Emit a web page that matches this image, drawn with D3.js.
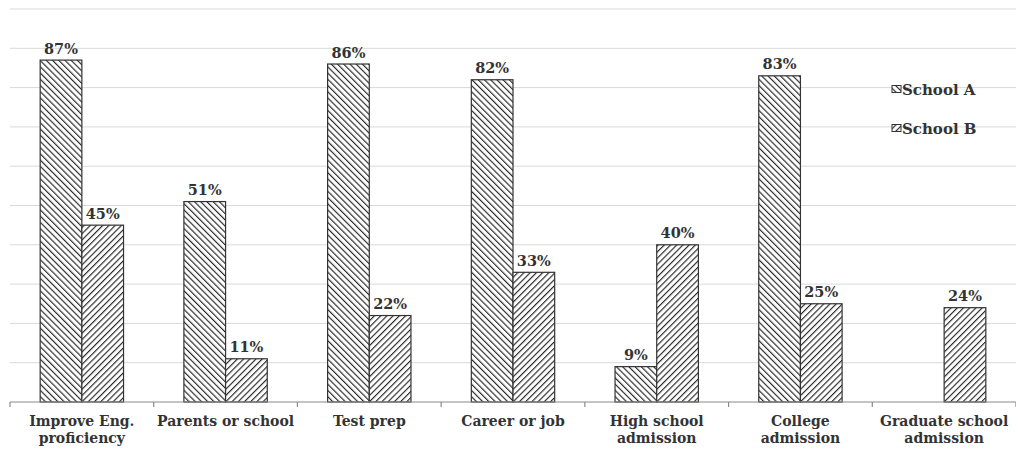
<!DOCTYPE html>
<html>
<head>
<meta charset="utf-8">
<script src="https://cdn.jsdelivr.net/npm/d3@7"></script>
<style>
  html, body { margin: 0; padding: 0; background: #fff; }
  svg { display: block; font-family: "DejaVu Serif", "Liberation Serif", serif; }
</style>
</head>
<body>
<svg id="chart" width="1016" height="450"></svg>
<script>
// Reasons for studying, by school (percent of respondents)
const categories = [
  ["Improve Eng.", "proficiency"],
  ["Parents or school"],
  ["Test prep"],
  ["Career or job"],
  ["High school", "admission"],
  ["College", "admission"],
  ["Graduate school", "admission"]
];
const seriesNames = ["School A", "School B"];
const schoolA = [87, 51, 86, 82, 9, 83, null];
const schoolB = [45, 11, 22, 33, 40, 25, 24];
const yTicks = [0, 10, 20, 30, 40, 50, 60, 70, 80, 90, 100];

const svg = d3.select("#chart");
const m = { left: 10, right: 1016, top: 9, bottom: 402 };

const x0 = d3.scaleBand()
  .domain(d3.range(categories.length))
  .range([m.left, m.right])
  .paddingInner(0)
  .paddingOuter(0);
const x1 = d3.scaleBand()
  .domain(seriesNames)
  .range([0, x0.bandwidth()])
  .paddingInner(0)
  .paddingOuter(0.724);
const y = d3.scaleLinear().domain([0, 100]).range([m.bottom, m.top]);

// Hatch patterns: School A "\\\", School B "///"
const defs = svg.append("defs");
function hatch(id, dir) {
  const s = 4.4;
  const p = defs.append("pattern")
    .attr("id", id)
    .attr("patternUnits", "userSpaceOnUse")
    .attr("width", s).attr("height", s)
    .attr("patternTransform", `rotate(${dir * 45})`);
  p.append("rect").attr("width", s).attr("height", s).attr("fill", "#fff");
  p.append("line")
    .attr("x1", 0).attr("y1", 0).attr("x2", 0).attr("y2", s)
    .attr("stroke", "#262626").attr("stroke-width", 2.3);
}
hatch("hatchA", -1);
hatch("hatchB", 1);
const fills = { "School A": "url(#hatchA)", "School B": "url(#hatchB)" };

// Gridlines
svg.append("g")
  .selectAll("line")
  .data(yTicks.filter(d => d > 0))
  .join("line")
  .attr("x1", m.left).attr("x2", m.right)
  .attr("y1", d => y(d)).attr("y2", d => y(d))
  .attr("stroke", "#d9d9d9").attr("stroke-width", 1);

// Bars
const rows = categories.map((c, i) => ({
  i,
  values: [
    { key: "School A", v: schoolA[i] },
    { key: "School B", v: schoolB[i] }
  ].filter(d => d.v != null)
}));

const groups = svg.append("g")
  .selectAll("g")
  .data(rows)
  .join("g")
  .attr("transform", d => `translate(${x0(d.i)},0)`);

groups.selectAll("rect")
  .data(d => d.values)
  .join("rect")
  .attr("x", d => x1(d.key))
  .attr("y", d => y(d.v))
  .attr("width", x1.bandwidth())
  .attr("height", d => y(0) - y(d.v))
  .attr("fill", d => fills[d.key])
  .attr("stroke", "#333")
  .attr("stroke-width", 1.2);

groups.selectAll("text.val")
  .data(d => d.values)
  .join("text")
  .attr("class", "val")
  .attr("x", d => x1(d.key) + x1.bandwidth() / 2)
  .attr("y", d => y(d.v) - 6.5)
  .attr("text-anchor", "middle")
  .attr("font-size", 14.5)
  .attr("font-weight", "bold")
  .attr("fill", "#333")
  .text(d => d.v + "%");

// Category axis
const axis = svg.append("g");
axis.append("line")
  .attr("x1", m.left).attr("x2", m.right)
  .attr("y1", m.bottom).attr("y2", m.bottom)
  .attr("stroke", "#8a8a8a").attr("stroke-width", 1.2);
axis.selectAll("line.tick")
  .data(d3.range(categories.length + 1))
  .join("line")
  .attr("class", "tick")
  .attr("x1", i => i < categories.length ? x0(i) : m.right)
  .attr("x2", i => i < categories.length ? x0(i) : m.right)
  .attr("y1", m.bottom).attr("y2", m.bottom + 5)
  .attr("stroke", "#8a8a8a").attr("stroke-width", 1.2);

axis.selectAll("text")
  .data(categories)
  .join("text")
  .attr("x", (d, i) => x0(i) + x0.bandwidth() / 2)
  .attr("y", 426)
  .attr("text-anchor", "middle")
  .attr("font-size", 14)
  .attr("font-weight", "bold")
  .attr("fill", "#333")
  .each(function(d) {
    const cx = d3.select(this).attr("x");
    d3.select(this).selectAll("tspan")
      .data(d)
      .join("tspan")
      .attr("x", cx)
      .attr("dy", (t, j) => j === 0 ? 0 : 17)
      .text(t => t);
  });

// Legend
const legend = svg.append("g")
  .selectAll("g")
  .data(seriesNames)
  .join("g")
  .attr("transform", (d, i) => `translate(892,${89 + i * 39})`);
legend.append("rect")
  .attr("x", 0).attr("y", -3.5)
  .attr("width", 9).attr("height", 7)
  .attr("fill", d => fills[d])
  .attr("stroke", "#333").attr("stroke-width", 1);
legend.append("text")
  .attr("x", 10).attr("y", 5.5)
  .attr("font-size", 15)
  .attr("font-weight", "bold")
  .attr("fill", "#333")
  .text(d => d);
</script>
</body>
</html>
